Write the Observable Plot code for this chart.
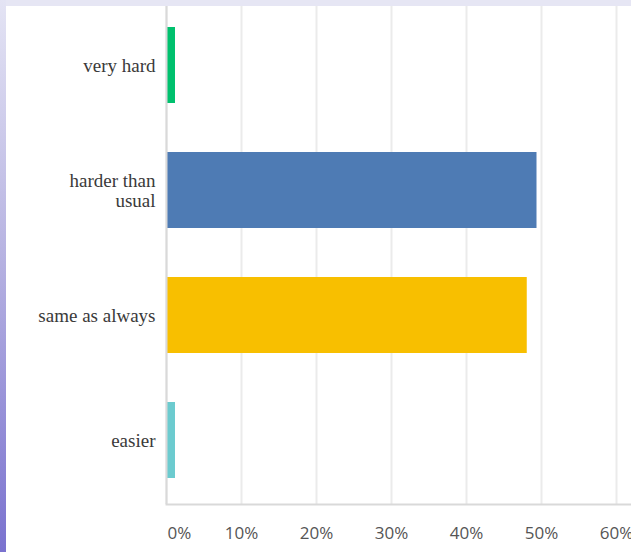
<!DOCTYPE html>
<html>
<head>
<meta charset="utf-8">
<script src="https://cdn.jsdelivr.net/npm/d3@7"></script>
<script src="https://cdn.jsdelivr.net/npm/@observablehq/plot@0.6"></script>
<style>
  html, body { margin: 0; padding: 0; }
  body { width: 631px; height: 552px; overflow: hidden; position: relative; background: #e6e6f4; }
  #strip { position: absolute; left: 0; top: 0; width: 6px; height: 552px;
           background: linear-gradient(to bottom, #e4e4f4 0%, #b8b4e2 45%, #7a72cf 100%); }
  #panel { position: absolute; left: 6px; top: 6px; width: 625px; height: 546px; background: #ffffff; }
  #chart { position: absolute; left: 0; top: 0; }
  #chart svg { background: transparent !important; }
  #topband { position: absolute; left: 6px; top: 0; width: 625px; height: 6px; background: #e6e6f4; }
</style>
</head>
<body>
<div id="strip"></div>
<div id="panel"></div>
<div id="chart"></div>
<div id="topband"></div>
<script>
const categories = ["very hard", "harder than usual", "same as always", "easier"];
const values = [0.012, 0.494, 0.481, 0.012];
const colors = ["#00c16e", "#4e7bb4", "#f8bf00", "#6ccbcf"];
const xTicks = [0, 0.1, 0.2, 0.3, 0.4, 0.5, 0.6];
const yLabels = {"harder than usual": "harder than\nusual"};

const data = categories.map((c, i) => ({category: c, value: values[i], color: colors[i]}));
const fmt = d => Math.round(d * 100) + "%";

const chart = Plot.plot({
  width: 631,
  height: 552,
  marginLeft: 166,
  marginRight: 15,
  marginTop: 2,
  marginBottom: 48,
  style: {background: "transparent"},
  x: {domain: [0, 0.6]},
  y: {domain: categories, paddingInner: 0.39, paddingOuter: 0.195, align: 0.5},
  marks: [
    Plot.gridX(xTicks, {stroke: "#ebebeb", strokeOpacity: 1, strokeWidth: 2, insetTop: -4}),
    Plot.barX(data, {y: "category", x: "value", fill: "color"}),
    Plot.ruleX([0], {stroke: "#d9d9d9", strokeWidth: 2, insetTop: -4}),
    Plot.frame({anchor: "bottom", stroke: "#d9d9d9", strokeWidth: 2, insetRight: -20}),
    Plot.axisX(xTicks.filter(d => d > 0), {
      tickSize: 0, tickPadding: 22, tickFormat: fmt,
      fontSize: 17, fontFamily: "Open Sans", fill: "#555555", label: null
    }),
    Plot.axisX([0], {
      tickSize: 0, tickPadding: 22, tickFormat: fmt, textAnchor: "start", dx: 1,
      fontSize: 17, fontFamily: "Open Sans", fill: "#555555", label: null
    }),
    Plot.axisY({
      tickSize: 0, tickPadding: 11, tickFormat: d => yLabels[d] || d,
      fontSize: 19, fontFamily: "Liberation Serif", fill: "#3a3a3a", lineHeight: 1.05, label: null
    })
  ]
});
document.getElementById("chart").appendChild(chart);
</script>
</body>
</html>
